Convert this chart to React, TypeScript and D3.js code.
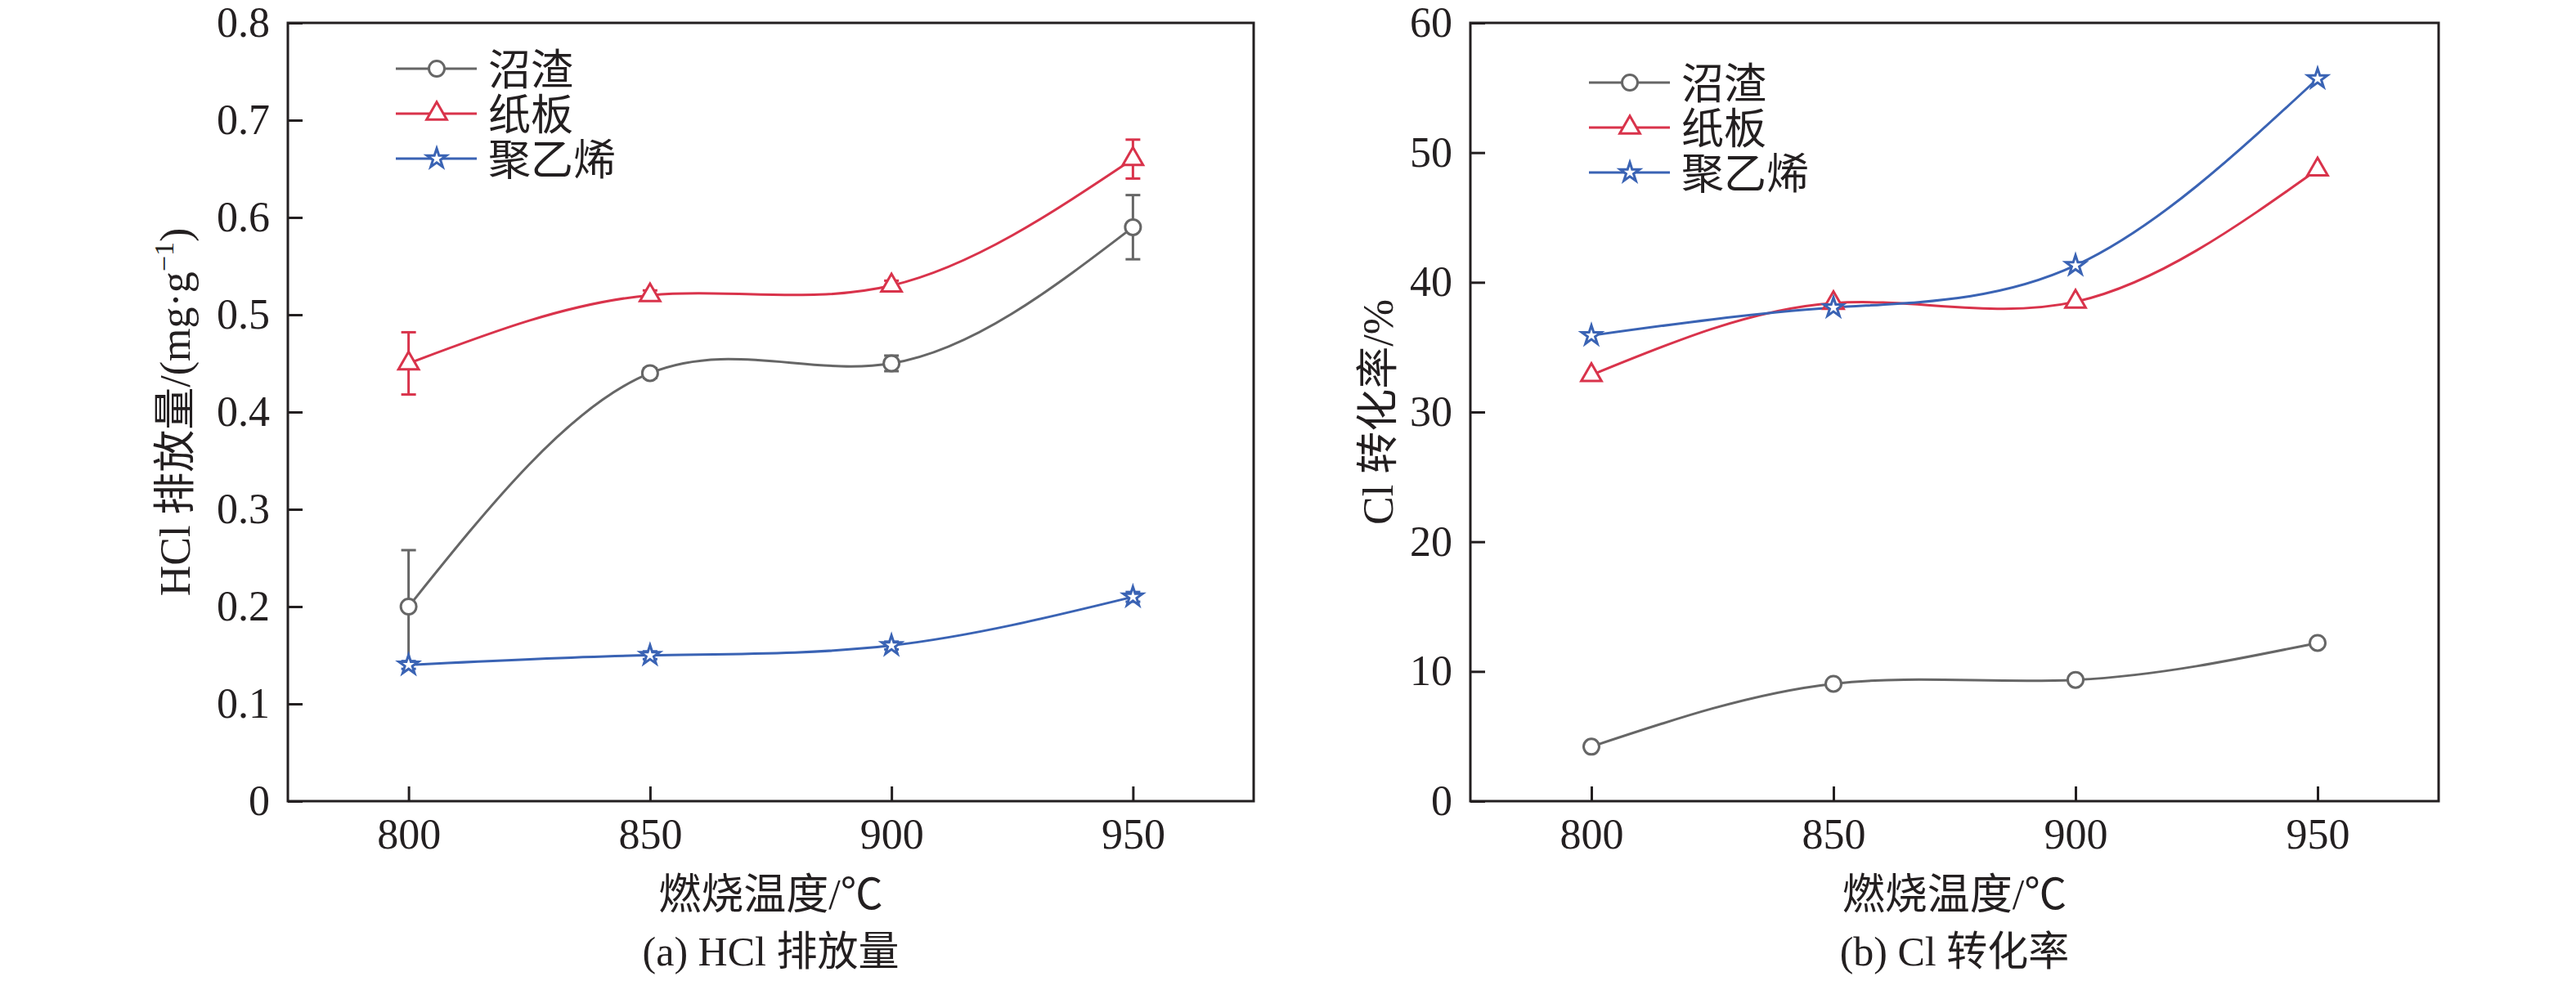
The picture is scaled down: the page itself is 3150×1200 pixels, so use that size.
import { useEffect, useRef } from "react";
import * as d3 from "d3";

const WIDTH = 3150;
const HEIGHT = 1200;
const FONT = "'Liberation Serif', 'Times New Roman', 'Noto Sans CJK SC', serif";

const TEMPS = [800, 850, 900, 950];
const X_DOMAIN = [775, 975];
const SERIES_NAMES = ["沼渣", "纸板", "聚乙烯"];
const COLORS = ["#666666", "#d9334b", "#3a63b4"];

// (a) HCl emission, mg/g
const HCL_DIGESTATE = [0.2, 0.44, 0.45, 0.59];
const HCL_CARDBOARD = [0.45, 0.52, 0.53, 0.66];
const HCL_PE = [0.14, 0.15, 0.16, 0.21];
const HCL_DIGESTATE_ERR = [0.058, 0.005, 0.008, 0.033];
const HCL_CARDBOARD_ERR = [0.032, 0.005, 0.005, 0.02];
const HCL_PE_ERR = [0.004, 0.004, 0.004, 0.005];
const HCL_TICKS = [0, 0.1, 0.2, 0.3, 0.4, 0.5, 0.6, 0.7, 0.8];

// (b) Cl conversion, %
const CL_DIGESTATE = [4.2, 9.05, 9.35, 12.2];
const CL_CARDBOARD = [32.85, 38.4, 38.5, 48.7];
const CL_PE = [35.9, 38.05, 41.3, 55.7];
const CL_TICKS = [0, 10, 20, 30, 40, 50, 60];

type Series = { values: number[]; errors?: number[] };

type PanelProps = {
  left: number;
  top: number;
  width: number;
  height: number;
  yTicks: number[];
  yFormat: (d: number) => string;
  series: Series[];
  legendX: number;
  legendY: number;
  yLabel: React.ReactNode;
  yLabelX: number;
  caption: string;
};

const markerPath = (i: number) => {
  if (i === 1) return d3.symbol(d3.symbolTriangle, 265)()!;
  return d3.symbol(d3.symbolStar, 175)()!;
};

const Marker = ({ i, x, y }: { i: number; x: number; y: number }) => {
  if (i === 0) {
    return (
      <circle cx={x} cy={y} r={9.5} fill="white" stroke={COLORS[0]} strokeWidth={3} />
    );
  }
  return (
    <path
      d={markerPath(i)}
      transform={`translate(${x},${y})`}
      fill="white"
      stroke={COLORS[i]}
      strokeWidth={3}
      strokeLinejoin="miter"
    />
  );
};

const Panel = ({
  left,
  top,
  width,
  height,
  yTicks,
  yFormat,
  series,
  legendX,
  legendY,
  yLabel,
  yLabelX,
  caption,
}: PanelProps) => {
  const axesRef = useRef(null);

  const xScale = d3.scaleLinear().domain(X_DOMAIN).range([0, width]);
  const yScale = d3
    .scaleLinear()
    .domain([yTicks[0], yTicks[yTicks.length - 1]])
    .range([height, 0]);

  // axes drawn by d3, ticks pointing inward
  useEffect(() => {
    const g = d3.select(axesRef.current);
    g.selectAll("*").remove();

    const xAxis = d3
      .axisBottom(xScale)
      .tickValues(TEMPS)
      .tickSizeInner(-18)
      .tickSizeOuter(0)
      .tickPadding(21)
      .tickFormat((d) => String(d));
    g.append("g").attr("transform", `translate(0,${height})`).call(xAxis);

    const yAxis = d3
      .axisLeft(yScale)
      .tickValues(yTicks)
      .tickSizeInner(-18)
      .tickSizeOuter(0)
      .tickPadding(22)
      .tickFormat((d) => yFormat(d as number));
    g.append("g").call(yAxis);

    g.selectAll(".domain").remove();
    g.selectAll(".tick line").attr("stroke", "#231f20").attr("stroke-width", 3);
    g.selectAll(".tick text")
      .attr("fill", "#231f20")
      .style("font-family", FONT)
      .style("font-size", "52px");
  }, [width, height]);

  const line = d3
    .line<number>()
    .x((_, i) => xScale(TEMPS[i]))
    .y((d) => yScale(d))
    .curve(d3.curveNatural);

  return (
    <g transform={`translate(${left},${top})`}>
      {series.map((s, si) => (
        <path
          key={`l${si}`}
          d={line(s.values)!}
          fill="none"
          stroke={COLORS[si]}
          strokeWidth={3}
        />
      ))}
      {series.map((s, si) =>
        s.errors
          ? s.values.map((v, i) => {
              const x = xScale(TEMPS[i]);
              const y0 = yScale(v - s.errors![i]);
              const y1 = yScale(v + s.errors![i]);
              return (
                <g key={`e${si}-${i}`} stroke={COLORS[si]} strokeWidth={3}>
                  <line x1={x} x2={x} y1={y0} y2={y1} />
                  <line x1={x - 9} x2={x + 9} y1={y0} y2={y0} />
                  <line x1={x - 9} x2={x + 9} y1={y1} y2={y1} />
                </g>
              );
            })
          : null
      )}
      {series.map((s, si) =>
        s.values.map((v, i) => (
          <Marker key={`m${si}-${i}`} i={si} x={xScale(TEMPS[i])} y={yScale(v)} />
        ))
      )}

      <rect
        x={0}
        y={0}
        width={width}
        height={height}
        fill="none"
        stroke="#231f20"
        strokeWidth={3}
      />
      <g ref={axesRef} />

      {/* legend */}
      {SERIES_NAMES.map((name, i) => {
        const y = legendY + i * 55;
        return (
          <g key={`lg${i}`}>
            <line
              x1={legendX}
              x2={legendX + 99}
              y1={y}
              y2={y}
              stroke={COLORS[i]}
              strokeWidth={3}
            />
            <Marker i={i} x={legendX + 50} y={y} />
            <text
              x={legendX + 113}
              y={y}
              dy="0.38em"
              fontFamily={FONT}
              fontSize={52}
              fill="#231f20"
            >
              {name}
            </text>
          </g>
        );
      })}

      <text
        transform={`translate(${yLabelX},${height / 2}) rotate(-90)`}
        textAnchor="middle"
        fontFamily={FONT}
        fontSize={52}
        fill="#231f20"
      >
        {yLabel}
      </text>
      <text
        x={width / 2}
        y={height + 132}
        textAnchor="middle"
        fontFamily={FONT}
        fontSize={52}
        fill="#231f20"
      >
        燃烧温度/℃
      </text>
      <text
        x={width / 2}
        y={height + 201}
        textAnchor="middle"
        fontFamily={FONT}
        fontSize={50}
        fill="#231f20"
      >
        {caption}
      </text>
    </g>
  );
};

export default function App() {
  useEffect(() => {
    document.body.style.margin = "0";
  }, []);

  return (
    <svg width={WIDTH} height={HEIGHT} style={{ display: "block", background: "white" }}>
      <Panel
        left={352}
        top={28}
        width={1181}
        height={952}
        yTicks={HCL_TICKS}
        yFormat={(d) => (d === 0 ? "0" : d.toFixed(1))}
        series={[
          { values: HCL_DIGESTATE, errors: HCL_DIGESTATE_ERR },
          { values: HCL_CARDBOARD, errors: HCL_CARDBOARD_ERR },
          { values: HCL_PE, errors: HCL_PE_ERR },
        ]}
        legendX={132}
        legendY={56}
        yLabel={
          <>
            HCl 排放量/(mg·g
            <tspan dy={-20} fontSize={34}>
              −1
            </tspan>
            <tspan dy={20}>)</tspan>
          </>
        }
        yLabelX={-120}
        caption="(a) HCl 排放量"
      />
      <Panel
        left={1798}
        top={28}
        width={1184}
        height={952}
        yTicks={CL_TICKS}
        yFormat={(d) => String(d)}
        series={[{ values: CL_DIGESTATE }, { values: CL_CARDBOARD }, { values: CL_PE }]}
        legendX={145}
        legendY={73}
        yLabel="Cl 转化率/%"
        yLabelX={-95}
        caption="(b) Cl 转化率"
      />
    </svg>
  );
}
